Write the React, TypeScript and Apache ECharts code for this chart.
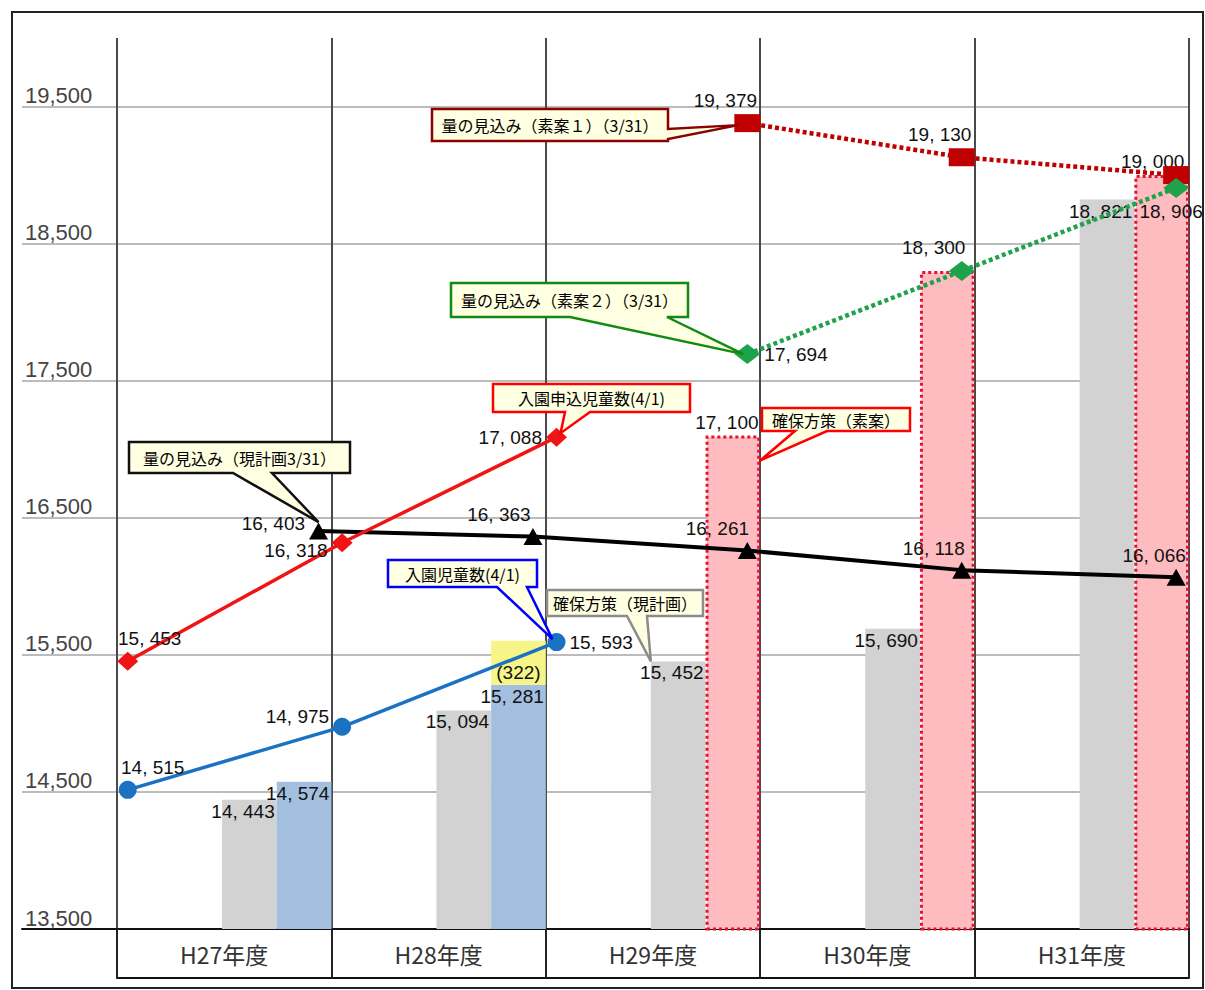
import React, { useEffect, useRef } from 'react';
import * as echarts from 'echarts';

// ---------- data ----------
const categories = ['H27年度', 'H28年度', 'H29年度', 'H30年度', 'H31年度'];
const yMin = 13500;
const yMax = 20000;
const yStep = 500;

// bars
const kakuhoGenkeikaku = [14443, 15094, 15452, 15690, 18821]; // 確保方策（現計画） gray
const kakuhoJisseki: (number | null)[] = [14574, 15281, null, null, null]; // blue
const kakuhoZoubun: (number | null)[] = [null, 322, null, null, null]; // yellow (322)
const kakuhoSoan: (number | null)[] = [null, null, 17100, 18300, 19000]; // 確保方策（素案） pink

// lines (4/1 = start of fiscal year, 3/31 = end of fiscal year)
const moushikomi: (number | null)[] = [15453, 16318, 17088, null, null]; // 入園申込児童数(4/1)
const nyuen: (number | null)[] = [14515, 14975, 15593, null, null]; // 入園児童数(4/1)
const mikomiGen: (number | null)[] = [16403, 16363, 16261, 16118, 16066]; // 量の見込み（現計画3/31）
const mikomiSoan1: (number | null)[] = [null, null, 19379, 19130, 19000]; // 量の見込み（素案１）（3/31）
const mikomiSoan2: (number | null)[] = [null, null, 17694, 18300, 18906]; // 量の見込み（素案２）（3/31）

// ---------- helpers ----------
const SANS = "'Liberation Sans', Arial, sans-serif";
const JP = "'Noto Sans CJK JP', 'Noto Sans', sans-serif";
const fmtValue = (v: number) => v.toLocaleString('en-US').replace(',', ', ');
const fmtAxis = (v: number) => v.toLocaleString('en-US');
const startPos = (i: number) => i + 0.05;
const endPos = (i: number) => i + 1 - 0.06;

const valueText = { color: '#111', fontSize: 19, fontFamily: SANS };
const lab = (position: any, offset: number[] = [0, 0]) => ({
  show: true,
  position,
  offset,
  distance: 4,
  ...valueText,
  formatter: (p: any) => fmtValue(Array.isArray(p.value) ? p.value[1] : p.value),
});
const noLab = { show: false };

const points = (vals: (number | null)[], pos: (i: number) => number, labels: any[]) =>
  vals.flatMap((v, i) => (v == null ? [] : [{ value: [pos(i), v], label: labels[i] }]));
const barData = (vals: (number | null)[], labels?: any[]) =>
  vals.map((v, i) => (v == null ? '-' : labels ? { value: v, label: labels[i] } : v));

export default function App() {
  const ref = useRef<HTMLDivElement>(null);

  useEffect(() => {
    document.body.style.margin = '0';
    if (!ref.current) return;
    const chart = echarts.init(ref.current, undefined, { renderer: 'svg' });

    const gridColors = ['#a6a6a6', 'rgba(0,0,0,0)'];

    const option: any = {
      animation: false,
      backgroundColor: '#fff',
      grid: [
        { left: 117, top: 38, width: 1072, height: 891, outerBoundsMode: 'none' },
        { left: 22, top: 38, width: 95, height: 891, outerBoundsMode: 'none' },
      ],
      xAxis: [
        {
          type: 'category',
          gridIndex: 0,
          data: categories,
          boundaryGap: true,
          axisLine: { show: true, lineStyle: { color: '#111', width: 2 } },
          axisTick: { show: true, length: 49, inside: false, alignWithLabel: false, lineStyle: { color: '#222', width: 2 } },
          axisLabel: { color: '#333', fontSize: 23, fontFamily: JP, margin: 13 },
          splitLine: { show: true, lineStyle: { color: '#4a4a4a', width: 2 } },
        },
        { type: 'value', gridIndex: 0, min: 0, max: 5, show: false, position: 'top' },
        {
          type: 'category',
          gridIndex: 0,
          data: categories,
          position: 'bottom',
          offset: 49,
          axisLine: { show: true, lineStyle: { color: '#111', width: 2 } },
          axisTick: { show: false },
          axisLabel: { show: false },
          splitLine: { show: false },
        },
        {
          type: 'value',
          gridIndex: 1,
          min: 0,
          max: 1,
          axisLine: { show: true, onZero: false, lineStyle: { color: '#111', width: 2 } },
          axisTick: { show: false },
          axisLabel: { show: false },
          splitLine: { show: false },
        },
      ],
      yAxis: [
        {
          type: 'value',
          gridIndex: 0,
          min: yMin,
          max: yMax,
          interval: yStep,
          axisLine: { show: false },
          axisTick: { show: false },
          axisLabel: { show: false },
          splitLine: { show: true, lineStyle: { color: gridColors, width: 1.5 } },
        },
        {
          type: 'value',
          gridIndex: 1,
          min: yMin,
          max: yMax,
          interval: yStep,
          axisLine: { show: false },
          axisTick: { show: false },
          axisLabel: {
            inside: true,
            margin: 3,
            verticalAlign: 'bottom',
            align: 'left',
            color: '#444',
            fontSize: 22,
            fontFamily: SANS,
            formatter: (v: number) => ((v - yMin) % 1000 === 0 ? fmtAxis(v) : ''),
          },
          splitLine: { show: true, lineStyle: { color: gridColors, width: 1.5 } },
        },
      ],
      series: [
        // spacer that keeps the bar pair in the right half of each year
        { type: 'bar', name: 'spacer', xAxisIndex: 0, yAxisIndex: 0, data: [], barWidth: '49%', barGap: 0, silent: true },
        {
          type: 'bar',
          name: '確保方策（現計画）',
          xAxisIndex: 0,
          yAxisIndex: 0,
          barWidth: '25.5%',
          barGap: 0,
          data: barData(kakuhoGenkeikaku),
          itemStyle: { color: '#d2d2d2' },
          label: { ...lab('insideTopRight'), distance: 2 },
          z: 2,
        },
        {
          type: 'bar',
          name: '確保実績',
          stack: 'r',
          xAxisIndex: 0,
          yAxisIndex: 0,
          barWidth: '25.5%',
          barGap: 0,
          data: barData(kakuhoJisseki),
          itemStyle: { color: '#a3bfdf' },
          label: { ...lab('insideTopRight'), distance: 2 },
          z: 2,
        },
        {
          type: 'bar',
          name: '増分',
          stack: 'r',
          xAxisIndex: 0,
          yAxisIndex: 0,
          barWidth: '25.5%',
          barGap: 0,
          data: barData(kakuhoZoubun),
          itemStyle: { color: '#f7f588' },
          label: { show: true, position: 'insideBottom', distance: 3, ...valueText, formatter: (p: any) => `(${p.value})` },
          z: 2,
        },
        {
          type: 'bar',
          name: '確保方策（素案）',
          stack: 'r',
          xAxisIndex: 0,
          yAxisIndex: 0,
          barWidth: '25.5%',
          barGap: 0,
          data: barData(kakuhoSoan, [null, null, lab('top', [-6, 0]), noLab, lab('top', [-9, 0])]),
          itemStyle: { color: '#ffbcc0', borderColor: '#e3122e', borderWidth: 3, borderType: [3, 3] },
          label: lab('top'),
          z: 2,
        },
        {
          type: 'line',
          name: '量の見込み（現計画3/31）',
          xAxisIndex: 1,
          yAxisIndex: 0,
          data: points(mikomiGen, endPos, [
            lab('left', [0, -8]),
            lab('top', [-34, 0]),
            lab('top', [-30, 0]),
            lab('top', [-28, 0]),
            lab('top', [-22, 0]),
          ]),
          symbol: 'triangle',
          symbolSize: [19, 17],
          lineStyle: { color: '#000', width: 4 },
          itemStyle: { color: '#000' },
          z: 5,
        },
        {
          type: 'line',
          name: '入園申込児童数(4/1)',
          xAxisIndex: 1,
          yAxisIndex: 0,
          data: points(moushikomi, startPos, [lab('top', [22, 0]), lab('left', [0, 8]), lab('left')]),
          symbol: 'diamond',
          symbolSize: [21, 19],
          lineStyle: { color: '#f01414', width: 3.5 },
          itemStyle: { color: '#f01414' },
          z: 6,
        },
        {
          type: 'line',
          name: '入園児童数(4/1)',
          xAxisIndex: 1,
          yAxisIndex: 0,
          data: points(nyuen, startPos, [lab('top', [25, 0]), lab('left', [0, -10]), lab('right')]),
          symbol: 'circle',
          symbolSize: 18,
          lineStyle: { color: '#1b72c2', width: 3.5 },
          itemStyle: { color: '#1b72c2' },
          z: 6,
        },
        {
          type: 'line',
          name: '量の見込み（素案１）（3/31）',
          xAxisIndex: 1,
          yAxisIndex: 0,
          data: points(mikomiSoan1, endPos, [null, null, lab('top', [-22, 0]), lab('top', [-22, 0]), noLab]),
          symbol: 'rect',
          symbolSize: [26, 18],
          lineStyle: { color: '#c00000', width: 4.5, type: [4, 3] },
          itemStyle: { color: '#c00000' },
          z: 6,
        },
        {
          type: 'line',
          name: '量の見込み（素案２）（3/31）',
          xAxisIndex: 1,
          yAxisIndex: 0,
          data: points(mikomiSoan2, endPos, [null, null, lab('right'), lab('top', [-28, 0]), lab('bottom', [-5, 0])]),
          symbol: 'diamond',
          symbolSize: [26, 20],
          lineStyle: { color: '#1ea24c', width: 4.5, type: [4, 3] },
          itemStyle: { color: '#1ea24c' },
          z: 7,
        },
      ],
    };

    chart.setOption(option);

    // ---------- callouts anchored to data points ----------
    const toPx = (x: number, y: number) => chart.convertToPixel({ seriesIndex: 5 }, [x, y]) as number[];
    const callouts = [
      { text: '量の見込み（素案１）（3/31）', box: [432, 109, 668, 141], side: 'right', base: [129, 139], anchor: toPx(endPos(2), mikomiSoan1[2] as number), off: [-9, 2], color: '#8b0000' },
      { text: '量の見込み（素案２）（3/31）', box: [451, 283, 688, 317], side: 'bottom', base: [570, 667], anchor: toPx(endPos(2), mikomiSoan2[2] as number), off: [-4, 0], color: '#128a12' },
      { text: '量の見込み（現計画3/31）', box: [129, 442, 350, 473], side: 'bottom', base: [233, 272], anchor: toPx(endPos(0), mikomiGen[0] as number), off: [0, -9], color: '#111' },
      { text: '入園申込児童数(4/1)', box: [493, 384, 690, 412], side: 'bottom', base: [565, 590], anchor: toPx(startPos(2), moushikomi[2] as number), off: [4, -4], color: '#ff0000' },
      { text: '確保方策（素案）', box: [762, 408, 910, 431], side: 'bottom', base: [795, 827], anchor: toPx(3, kakuhoSoan[2] as number), off: [0, 25], color: '#ff0000' },
      { text: '入園児童数(4/1)', box: [388, 560, 537, 587], side: 'bottom', base: [497, 527], anchor: toPx(startPos(2), nyuen[2] as number), off: [-4, -3], color: '#0000ff' },
      { text: '確保方策（現計画）', box: [547, 590, 703, 616], side: 'bottom', base: [627, 647], anchor: toPx(2.49, kakuhoGenkeikaku[2]), off: [0, 0], color: '#8c8c8c' },
    ];

    const graphic: any[] = [
      {
        type: 'rect',
        shape: { x: 12, y: 12, width: 1191, height: 976 },
        style: { fill: 'none', stroke: '#222', lineWidth: 2 },
        silent: true,
        z: 0,
      },
    ];
    callouts.forEach((c) => {
      const [x0, y0, x1, y1] = c.box;
      const tip = [c.anchor[0] + c.off[0], c.anchor[1] + c.off[1]];
      const pts =
        c.side === 'right'
          ? [[x0, y0], [x1, y0], [x1, c.base[0]], tip, [x1, c.base[1]], [x1, y1], [x0, y1]]
          : [[x0, y0], [x1, y0], [x1, y1], [c.base[1], y1], tip, [c.base[0], y1], [x0, y1]];
      graphic.push({
        type: 'polygon',
        shape: { points: pts },
        style: { fill: '#ffffe1', stroke: c.color, lineWidth: 2.5 },
        silent: true,
        z: 100,
      });
      graphic.push({
        type: 'text',
        x: (x0 + x1) / 2,
        y: (y0 + y1) / 2,
        style: { text: c.text, fill: '#000', fontSize: 16, fontFamily: JP, align: 'center', verticalAlign: 'middle' },
        silent: true,
        z: 101,
      });
    });
    chart.setOption({ graphic });

    return () => chart.dispose();
  }, []);

  return <div ref={ref} style={{ width: 1205, height: 990 }} />;
}
